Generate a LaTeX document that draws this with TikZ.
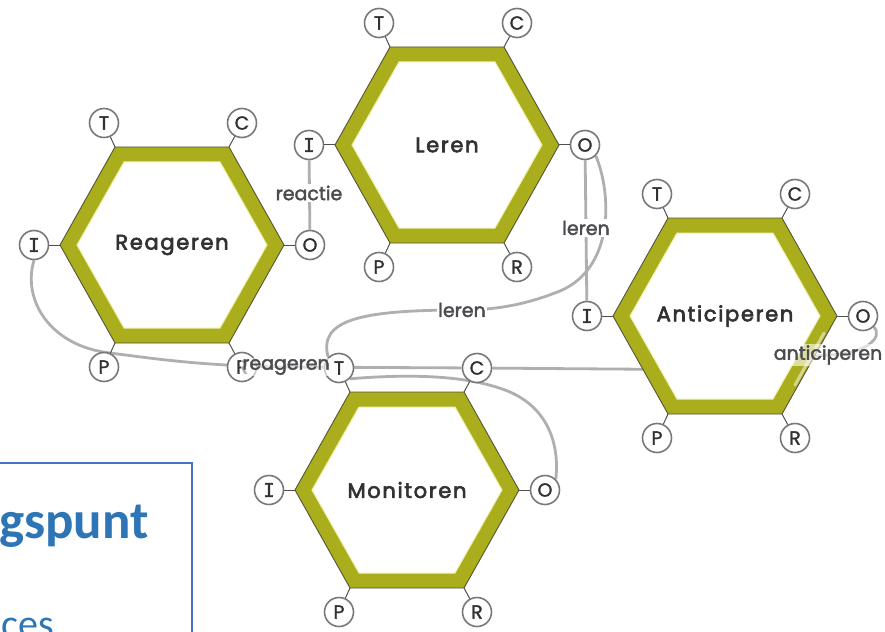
\documentclass[tikz,border=0pt]{standalone}
\usepackage{fontspec}
\setmainfont{Poppins}
\newfontfamily\labfont[LetterSpace=8,FakeBold=3]{Poppins}
\newfontfamily\smallfont[FakeBold=2]{Poppins}
\newfontfamily\circfont[FakeBold=1.5]{Poppins}
\newfontfamily\ifont[FakeBold=1.5]{DejaVu Sans Mono}
\newfontfamily\boxfont{Carlito}
\usetikzlibrary{backgrounds}
\definecolor{framolive}{RGB}{170,174,28}
\definecolor{hexedge}{RGB}{85,85,55}
\definecolor{paleyel}{RGB}{238,240,170}
\definecolor{conngray}{RGB}{175,175,175}
\definecolor{circgray}{RGB}{120,120,120}
\definecolor{stubgray}{RGB}{80,80,80}
\definecolor{textdark}{RGB}{50,50,50}
\definecolor{lblgray}{RGB}{75,75,80}
\definecolor{boxblue}{RGB}{68,114,196}
\definecolor{boxtext}{RGB}{46,117,182}
\tikzset{
  conn/.style={draw=conngray, line width=2.8pt},
  aspect/.style={circle, draw=circgray, line width=1.6pt, fill=white, minimum size=29pt, inner sep=0pt, font=\circfont\fontsize{19}{19}\selectfont, text=textdark},
  fnlabel/.style={font=\labfont\fontsize{21}{21}\selectfont, text=textdark},
  lbl/.style={fill=white, inner sep=1.5pt, font=\smallfont\fontsize{19}{19}\selectfont, text=lblgray},
  stub/.style={draw=stubgray, line width=1pt}
}
\newcommand{\framhex}[4]{%
  \begin{scope}[shift={(#2,#3)}]
    \filldraw[fill=framolive, draw=hexedge, line width=0.9pt] (-112,0) -- (-57,-98) -- (57,-98) -- (112,0) -- (57,98) -- (-57,98) -- cycle;
    \filldraw[fill=white, draw=paleyel, line width=1pt] (-95,0) -- (-48,-83) -- (48,-83) -- (95,0) -- (48,83) -- (-48,83) -- cycle;
    \node[fnlabel] (#1) at (0,0) {#4};
    \node[aspect] (#1T) at (-68,-122) {T};
    \node[aspect] (#1C) at (70,-122) {C};
    \node[aspect] (#1I) at (-138,0) {\ifont\fontsize{19}{19}\selectfont I};
    \node[aspect] (#1O) at (138,0) {O};
    \node[aspect] (#1P) at (-68,122) {P};
    \node[aspect] (#1R) at (70,122) {R};
    \draw[stub] (#1T) -- (-57,-98);
    \draw[stub] (#1C) -- (57,-98);
    \draw[stub] (#1I) -- (-112,0);
    \draw[stub] (#1O) -- (112,0);
    \draw[stub] (#1P) -- (-57,98);
    \draw[stub] (#1R) -- (57,98);
  \end{scope}}
\begin{document}
\begin{tikzpicture}[x=1pt,y=-1pt]
\useasboundingbox (0,0) rectangle (885,631);
\clip (0,0) rectangle (885,631);
% functions
\framhex{R}{172}{245}{Reageren}
\framhex{L}{447}{145}{Leren}
\framhex{A}{725}{316}{Anticiperen}
\framhex{M}{407}{490}{Monitoren}
% faint streak of the hidden connector over the band
\draw[white, opacity=0.5, line width=3pt, line cap=round] (824,333) -- (795,385);
% connector labels
\node[lbl] (lreac) at (309,193) {reactie};
\node[lbl] (lleren1) at (586,228) {leren};
\node[lbl] (lleren2) at (462,310) {leren};
\node[lbl, fill opacity=0.6, text opacity=1] (lreag) at (286,367) {reageren};
\node[lbl, fill opacity=0.6, text opacity=1] (lantic) at (828,355) {anticiperen};
\coordinate (ahid) at (745,370);
% connectors
\begin{scope}[on background layer]
\fill[white] (0,0) rectangle (885,631);
\draw[conn] (RO) -- (LI);
\draw[conn] (LO) -- (AI);
\draw[conn] (LO.south east) .. controls (612,195) and (614,268) .. (560,291) .. controls (530,303) and (500,310) .. (lleren2.center) .. controls (360,310) and (318,320) .. (MT.north west);
\draw[conn] (RI.south) .. controls (22,300) and (50,346) .. (110,353) .. controls (150,358) and (200,366) .. (lreag.center) -- (MC);
\draw[conn] (MC) -- (ahid) .. controls (790,370) and (800,356) .. (lantic.center) .. controls (865,354) and (884,338) .. (AO.south east);
\draw[conn] (MT.south east) .. controls (420,373) and (470,377) .. (505,390) .. controls (545,405) and (560,440) .. (MO.north east);
\end{scope}
% slide fragment box
\draw[boxblue, line width=1.3pt] (-5,463) rectangle (192,640);
\node[anchor=base west, inner sep=0pt, font=\boxfont\bfseries\fontsize{53}{53}\selectfont, text=boxtext] (gsp) at (-1,538) {gspunt};
\node[anchor=base west, inner sep=0pt, font=\boxfont\fontsize{40}{40}\selectfont, text=boxtext] (ces) at (1,637) {ces};
\end{tikzpicture}
\end{document}
